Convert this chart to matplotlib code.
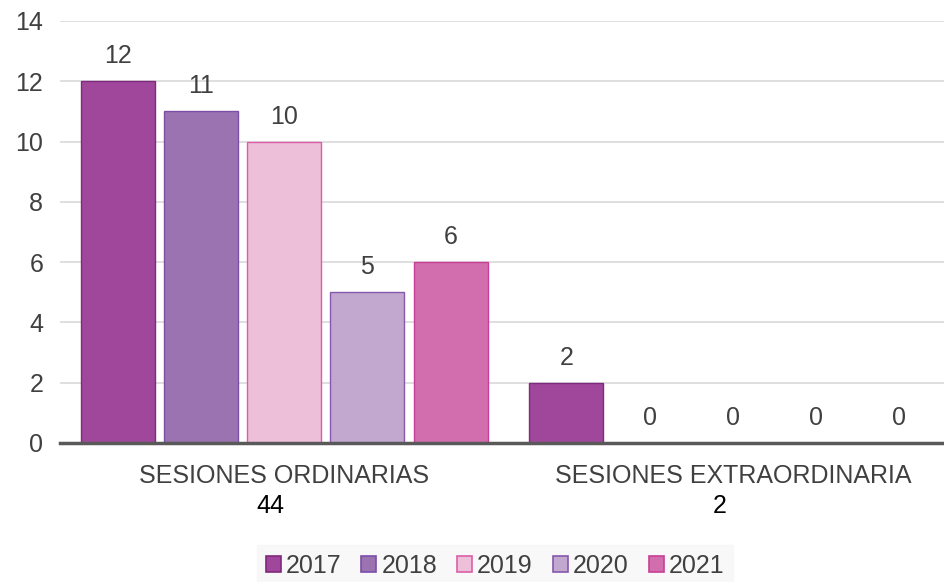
import matplotlib
matplotlib.use("Agg")
import matplotlib.pyplot as plt
import numpy as np
from matplotlib.patches import Patch

plt.rcParams['font.family'] = ['Liberation Sans', 'DejaVu Sans']

categories = ["SESIONES ORDINARIAS", "SESIONES EXTRAORDINARIA"]
totals = ["44", "2"]
years = ["2017", "2018", "2019", "2020", "2021"]
values = {
    "2017": [12, 2],
    "2018": [11, 0],
    "2019": [10, 0],
    "2020": [5, 0],
    "2021": [6, 0],
}
fills = ["#A0479B", "#9A73B0", "#EDBFD9", "#C2A8CF", "#D36EAE"]
edges = ["#7E2A7E", "#7B4FA8", "#DA5FAA", "#8558AE", "#C73E96"]

fig = plt.figure(figsize=(9.44, 5.82), dpi=100)
ax = fig.add_axes([60 / 944, 1 - 443 / 582, 884 / 944, (443 - 21) / 582])

x = np.arange(len(categories))
step = 0.1855
width = 0.165
text_col = "#404040"
fs = 18

for i, yr in enumerate(years):
    pos = x + (i - 2) * step
    ax.bar(pos, values[yr], width, color=fills[i], edgecolor=edges[i],
           linewidth=1.0, zorder=3, label=yr)
    for p, v in zip(pos, values[yr]):
        ax.annotate(str(v), (p, v), xytext=(0, 18), textcoords="offset points",
                    ha="center", va="center", fontsize=fs, color=text_col)

ax.set_xlim(-0.5, 1.471)
ax.set_ylim(0, 14)
ax.set_yticks(range(0, 15, 2))
ax.tick_params(axis="y", length=0, labelsize=fs, labelcolor=text_col, pad=12)
ax.set_xticks([])
ax.yaxis.grid(True, color="#D9D9D9", linewidth=1.2, zorder=0)
for s in ["top", "right", "left"]:
    ax.spines[s].set_visible(False)
ax.spines["bottom"].set_color("#595959")
ax.spines["bottom"].set_linewidth(2.5)
ax.spines["bottom"].set_zorder(4)

for xi, cat, tot in zip(x, categories, totals):
    ax.text(xi, -1.1, cat, ha="center", va="center", fontsize=fs,
            color=text_col, clip_on=False)
    ax.text(xi - 0.03, -2.1, tot, ha="center", va="center", fontsize=fs,
            color="black", clip_on=False)

handles = [Patch(facecolor=fills[i], edgecolor=edges[i], linewidth=1.2, label=yr)
           for i, yr in enumerate(years)]
leg = fig.legend(handles=handles, loc="center", bbox_to_anchor=(495 / 944, 1 - 566 / 582),
                 ncol=5, frameon=True, fontsize=fs, handlelength=0.6, handleheight=0.6,
                 handletextpad=0.2, columnspacing=0.8, borderpad=0.35)
leg.get_frame().set_facecolor("#F7F7F7")
leg.get_frame().set_edgecolor("#F7F7F7")
leg.get_frame().set_boxstyle("square", pad=0.0)
for t in leg.get_texts():
    t.set_color(text_col)

fig.savefig("out.png", dpi=100)
